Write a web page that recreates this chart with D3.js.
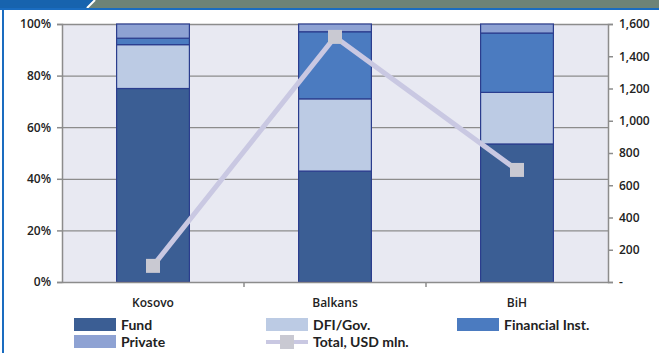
<html><head>
<script src="https://d3js.org/d3.v7.min.js"></script>
<style>
  body { margin: 0; background: #fff; }
  text { font-family: 'Open Sans', 'DejaVu Sans', sans-serif; font-weight: 600; fill: #222; }
  .legend text { font-family: Lato, 'Open Sans', sans-serif; font-weight: 700; }
</style>
</head>
<body>
<script>
  // data
  const regions = ["Kosovo", "Balkans", "BiH"]
  const fund = [0.75, 0.43, 0.535]
  const dfi = [0.17, 0.28, 0.20]
  const finInst = [0.025, 0.26, 0.23]
  const priv = [0.055, 0.03, 0.035]
  const totalUsd = [100, 1520, 695]
  const pctTicks = [0, 0.2, 0.4, 0.6, 0.8, 1]
  const usdTicks = [0, 200, 400, 600, 800, 1000, 1200, 1400, 1600]

  const seriesNames = ["Fund", "DFI/Gov.", "Financial Inst.", "Private"]
  const seriesColors = ["#3b5e94", "#bccbe4", "#4b7bc0", "#8ea2d3"]

  const width = 659, height = 353
  const margin = {top: 24, bottom: 71, left: 62, right: 51}
  const chartW = width - margin.left - margin.right
  const chartH = height - margin.top - margin.bottom

  const svg = d3.select("body").append("svg")
                .attr("width", width).attr("height", height)

  // header strip + left border
  svg.append("rect").attr("x", 0).attr("y", 0).attr("width", width).attr("height", 8).style("fill", "#6d8377")
  svg.append("path").attr("d", "M0,0 L94,0 L86,8 L0,8 Z").style("fill", "#1763ae")
  svg.append("path").attr("d", "M95,0 L87,8").style("stroke", "#fff").style("stroke-width", 2)
  svg.append("rect").attr("x", 0).attr("y", 8).attr("width", width).attr("height", 2).style("fill", "#1a6cc0")
  svg.append("rect").attr("x", 2).attr("y", 8).attr("width", 2).attr("height", height).style("fill", "#1a6cc0")

  const chart = svg.append("g").attr("transform", `translate(${margin.left},${margin.top})`)

  chart.append("rect").attr("width", chartW).attr("height", chartH).style("fill", "#e8e9f2")

  const xScale = d3.scaleBand().domain(regions).range([0, chartW]).paddingInner(0.6).paddingOuter(0.3)
  const yScale = d3.scaleLinear().domain([0, 1]).range([chartH, 0])
  const y2Scale = d3.scaleLinear().domain([0, 1600]).range([chartH, 0])

  // gridlines
  chart.append("g").attr("class", "grid")
       .call(d3.axisLeft(yScale).tickValues(pctTicks.slice(1)).tickSize(-chartW).tickFormat(""))
       .call(g => g.select(".domain").remove())
       .call(g => g.selectAll("line").style("stroke", "#8c8c8c").style("stroke-width", 1.3))

  // stacked bars
  const table = regions.map((r, i) => ({region: r, fund: fund[i], dfi: dfi[i], fin: finInst[i], priv: priv[i]}))
  const keys = ["fund", "dfi", "fin", "priv"]
  const stacked = d3.stack().keys(keys)(table)

  chart.selectAll("g.layer").data(stacked).join("g")
       .attr("class", "layer")
       .style("fill", (d, i) => seriesColors[i])
       .selectAll("rect").data(d => d).join("rect")
       .attr("x", d => xScale(d.data.region))
       .attr("y", d => yScale(d[1]))
       .attr("width", xScale.bandwidth())
       .attr("height", d => yScale(d[0]) - yScale(d[1]))
       .style("stroke", "#2b3d8e").style("stroke-width", 1.2)

  // axes
  const styleAxis = g => {
    g.selectAll(".domain, line").style("stroke", "#8c8c8c").style("stroke-width", 1.5)
    g.selectAll("text").style("font-size", "12px")
  }
  chart.append("g")
       .call(d3.axisLeft(yScale).tickValues(pctTicks).tickFormat(d3.format(".0%")).tickSize(5).tickPadding(6))
       .call(styleAxis)
  chart.append("g").attr("transform", `translate(${chartW},0)`)
       .call(d3.axisRight(y2Scale).tickValues(usdTicks).tickFormat(d => d === 0 ? "-" : d3.format(",")(d)).tickSize(5).tickPadding(6))
       .call(styleAxis)
  const step = xScale.step()
  chart.append("g").attr("transform", `translate(0,${chartH})`)
       .call(d3.axisBottom(xScale).tickSize(0).tickPadding(16))
       .call(styleAxis)
  chart.append("g").selectAll("line").data(regions.slice(1)).join("line")
       .attr("x1", d => xScale(d) - xScale.paddingInner() * step / 2)
       .attr("x2", d => xScale(d) - xScale.paddingInner() * step / 2)
       .attr("y1", chartH).attr("y2", chartH + 5)
       .style("stroke", "#8c8c8c").style("stroke-width", 1.5)

  // total line
  const lineGen = d3.line()
                    .x((d, i) => xScale(regions[i]) + xScale.bandwidth() / 2)
                    .y(d => y2Scale(d))
  chart.append("path").datum(totalUsd)
       .attr("d", lineGen)
       .style("fill", "none").style("stroke", "#c9c8e2").style("stroke-width", 5)
  chart.selectAll("rect.marker").data(totalUsd).join("rect")
       .attr("class", "marker")
       .attr("x", (d, i) => xScale(regions[i]) + xScale.bandwidth() / 2 - 7)
       .attr("y", d => y2Scale(d) - 7)
       .attr("width", 14).attr("height", 14)
       .style("fill", "#c9c9d2")

  // legend
  const legendPos = [[74, 318], [266, 318], [457, 318], [74, 335]]
  const legend = svg.append("g").attr("class", "legend")
  seriesNames.forEach((name, i) => {
    const [lx, ly] = legendPos[i]
    legend.append("rect").attr("x", lx).attr("y", ly).attr("width", 42).attr("height", 13)
          .style("fill", seriesColors[i])
    legend.append("text").attr("x", lx + 47).attr("y", ly + 12).text(name).style("font-size", "14px")
  })
  legend.append("line").attr("x1", 266).attr("x2", 308).attr("y1", 342).attr("y2", 342)
        .style("stroke", "#c9c8e2").style("stroke-width", 4)
  legend.append("rect").attr("x", 280).attr("y", 335).attr("width", 14).attr("height", 14).style("fill", "#c9c9d2")
  legend.append("text").attr("x", 313).attr("y", 347).text("Total, USD mln.").style("font-size", "14px")
</script>
</body></html>
